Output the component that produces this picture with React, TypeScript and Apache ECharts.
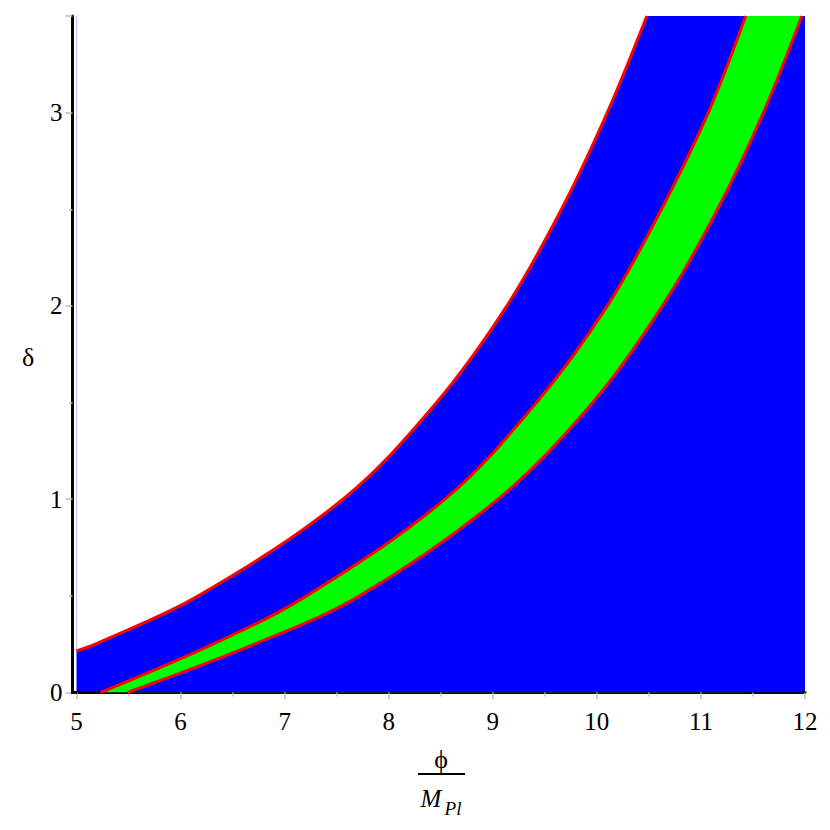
import React, { useEffect, useRef } from "react";
import * as echarts from "echarts";

// Curves: [phi/M_Pl, delta]
const upperCurve: [number, number][] = [
  [5.0, 0.215], [5.18, 0.25], [6.17, 0.5], [7.56, 1.0], [8.46, 1.5],
  [9.135, 2.0], [9.66, 2.5], [10.1, 3.0], [10.48, 3.5],
];
const middleCurve: [number, number][] = [
  [5.23, 0.0], [6.31, 0.25], [7.21, 0.5], [8.54, 1.0], [9.42, 1.5],
  [10.1, 2.0], [10.62, 2.5], [11.07, 3.0], [11.43, 3.5],
];
const lowerCurve: [number, number][] = [
  [5.49, 0.0], [6.71, 0.25], [7.72, 0.5], [9.05, 1.0], [9.96, 1.5],
  [10.63, 2.0], [11.16, 2.5], [11.6, 3.0], [11.97, 3.5],
];

const X_MIN = 5;
const X_MAX = 12;
const Y_MIN = 0;
const Y_MAX = 3.5;

const FONT = '"Times New Roman", "Liberation Serif", Times, serif';
const SMOOTH = 0.35;

export default function App() {
  const ref = useRef<HTMLDivElement>(null);
  useEffect(() => {
    if (!ref.current) return;
    const chart = echarts.init(ref.current, null, { renderer: "svg" });
    const areaSeries = (data: [number, number][], fill: string, origin: string) => ({
      type: "line",
      data,
      smooth: SMOOTH,
      symbol: "none",
      lineStyle: { width: 0, opacity: 0 },
      areaStyle: { color: fill, opacity: 1, origin },
      silent: true,
    });
    const lineSeries = (data: [number, number][]) => ({
      type: "line",
      data,
      smooth: SMOOTH,
      symbol: "none",
      lineStyle: { color: "#ff0000", width: 3 },
      silent: true,
    });
    chart.setOption({
      animation: false,
      backgroundColor: "#ffffff",
      textStyle: { fontFamily: FONT },
      grid: {
        left: 76.5,
        right: 25,
        top: 16,
        bottom: 137.5,
        show: true,
        backgroundColor: "#0000ff",
        borderWidth: 0,
      },
      xAxis: {
        type: "value",
        min: X_MIN,
        max: X_MAX,
        interval: 1,
        axisLine: { show: true, lineStyle: { color: "#000", width: 3 } },
        axisTick: { show: true, length: 7, lineStyle: { color: "#bdbdbd", width: 1.5 } },
        minorTick: { show: true, splitNumber: 2, length: 4, lineStyle: { color: "#bdbdbd", width: 1.5 } },
        splitLine: { show: false },
        axisLabel: { color: "#000", fontFamily: FONT, fontSize: 25, margin: 16 },
      },
      yAxis: {
        type: "value",
        min: Y_MIN,
        max: Y_MAX,
        interval: 1,
        offset: 4,
        axisLine: { show: true, lineStyle: { color: "#000", width: 3 } },
        axisTick: { show: true, length: 7, lineStyle: { color: "#bdbdbd", width: 1.5 } },
        minorTick: { show: true, splitNumber: 2, length: 3.5, lineStyle: { color: "#bdbdbd", width: 1.5 } },
        splitLine: { show: false },
        axisLabel: {
          color: "#000",
          fontFamily: FONT,
          fontSize: 25,
          margin: 10,
          formatter: (v: number) => (Number.isInteger(v) ? String(v) : ""),
        },
      },
      series: [
        areaSeries(lowerCurve, "#00ff00", "end"),
        areaSeries(middleCurve, "#00ff00", "start"),
        areaSeries(lowerCurve, "#0000ff", "start"),
        areaSeries(middleCurve, "#0000ff", "end"),
        areaSeries(upperCurve, "#ffffff", "end"),
        lineSeries(lowerCurve),
        lineSeries(middleCurve),
        lineSeries(upperCurve),
      ],
      graphic: [
        { type: "rect", shape: { x: 71, y: 691, width: 6, height: 3 }, style: { fill: "#000" }, z: 10 },
        {
          type: "text", x: 28, y: 357,
          style: { text: "δ", font: `26px ${FONT}`, fill: "#000", align: "center", verticalAlign: "middle" },
        },
        {
          type: "text", x: 441, y: 759,
          style: { text: "\u03D5", font: `26px ${FONT}`, fill: "#000", align: "center", verticalAlign: "middle" },
        },
        {
          type: "line", shape: { x1: 418, y1: 774, x2: 465, y2: 774 },
          style: { stroke: "#000", lineWidth: 2 },
        },
        {
          type: "text", x: 431, y: 798,
          style: { text: "M", font: `italic 25px ${FONT}`, fill: "#000", align: "center", verticalAlign: "middle" },
        },
        {
          type: "text", x: 453, y: 808,
          style: { text: "Pl", font: `italic 19px ${FONT}`, fill: "#000", align: "center", verticalAlign: "middle" },
        },
      ],
    });
    return () => chart.dispose();
  }, []);
  return <div ref={ref} style={{ width: 830, height: 830, position: "absolute", left: 0, top: 0 }} />;
}
